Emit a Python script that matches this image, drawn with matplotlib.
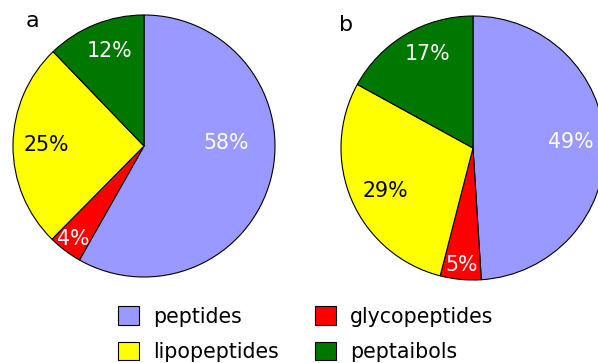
import numpy as np
import matplotlib
matplotlib.use('Agg')
import matplotlib.pyplot as plt

categories = ['peptides', 'glycopeptides', 'lipopeptides', 'peptaibols']
colors = ['#9999ff', '#ff0000', '#ffff00', '#007700']
text_colors = ['white', 'white', 'black', 'white']

# shares (labels are the rounded values)
values_a = [58.2, 4.2, 25.4, 12.2]
labels_a = ['58%', '4%', '25%', '12%']
values_b = [49.0, 5.0, 29.0, 17.0]
labels_b = ['49%', '5%', '29%', '17%']

# label placement: radius (fraction of pie) and angle shift in degrees
lab_r_a = [0.63, 0.89, 0.75, 0.77]
lab_shift_a = [17, 0, 0, -2]
lab_r_b = [0.74, 0.89, 0.74, 0.79]
lab_shift_b = [2, 0, 3, -5]

FS = 14.8

fig = plt.figure(figsize=(5.98, 3.63), dpi=100)
W, H = 598.0, 363.0


def draw(box, values, labels, radii, shifts, letter, letter_xy):
    ax = fig.add_axes(box)
    wedges, _ = ax.pie(values, colors=colors, startangle=90, counterclock=False,
                       wedgeprops=dict(edgecolor='black', linewidth=0.8))
    ax.set_xlim(-1, 1)
    ax.set_ylim(-1, 1)
    for w, lab, r, s, c in zip(wedges, labels, radii, shifts, text_colors):
        ang = np.deg2rad((w.theta1 + w.theta2) / 2 + s)
        ax.text(r * np.cos(ang), r * np.sin(ang), lab, color=c, fontsize=FS,
                ha='center', va='center')
    fig.text(letter_xy[0] / W, 1 - letter_xy[1] / H, letter, fontsize=16,
             ha='center', va='center')
    return wedges


# pie a: centre (144,146) r=131 ; pie b: centre (473,148) r=132
wa = draw([13 / W, 1 - 277 / H, 262 / W, 262 / H], values_a, labels_a,
          lab_r_a, lab_shift_a, 'a', (32, 21))
draw([341 / W, 1 - 280 / H, 264 / W, 264 / H], values_b, labels_b,
     lab_r_b, lab_shift_b, 'b', (346, 25))

# legend filled column-wise: peptides, lipopeptides | glycopeptides, peptaibols
order = [0, 2, 1, 3]
fig.legend([wa[i] for i in order], [categories[i] for i in order],
           loc='upper left', bbox_to_anchor=(108 / W, 1 - 296 / H), ncol=2,
           frameon=False, fontsize=FS, borderpad=0, handlelength=1.0,
           handleheight=1.0, handletextpad=0.7, columnspacing=1.75,
           labelspacing=0.75)

fig.savefig('out.png', dpi=100)
